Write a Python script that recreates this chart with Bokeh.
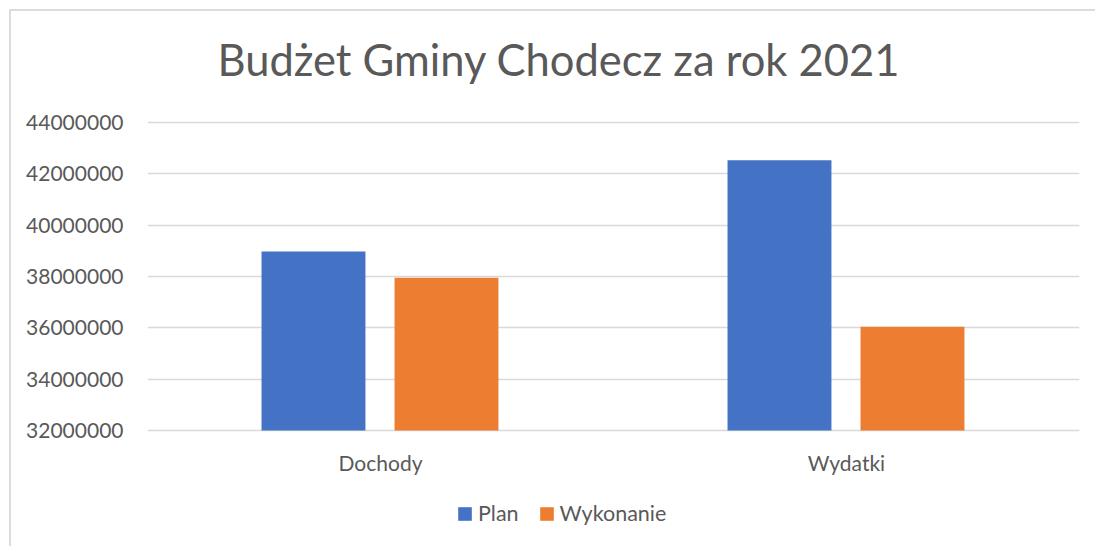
from bokeh.plotting import figure
from bokeh.models import (Range1d, FactorRange, FixedTicker, NumeralTickFormatter,
                          Legend, LegendItem, Label, ColumnDataSource)
from bokeh.transform import dodge
from bokeh.core.properties import value
from bokeh.embed import file_html
from bokeh.resources import INLINE

categories = ["Dochody", "Wydatki"]
plan = [38970000, 42530000]
wykonanie = [37950000, 36040000]
y_ticks = [32000000, 34000000, 36000000, 38000000, 40000000, 42000000, 44000000]
title_text = "Budżet Gminy Chodecz za rok 2021"
series_names = ["Plan", "Wykonanie"]

FONT = "Lato"
TXT = "#595959"
GRID = "#d9d9d9"
BLUE = "#4472C4"
ORANGE = "#ED7D31"

# layout: plot frame fills the canvas height; the value axis occupies rows 122..430
W, H = 1086, 537
BOTTOM_GAP = 118              # pixels between the 32M line and the canvas bottom
PX_PER_UNIT = 308 / (y_ticks[-1] - y_ticks[0])
Y_START = y_ticks[0] - BOTTOM_GAP / PX_PER_UNIT
Y_END = Y_START + H / PX_PER_UNIT
LABEL_Y = y_ticks[0] - 32 / PX_PER_UNIT

src = ColumnDataSource(dict(cat=categories, plan=plan, wyk=wykonanie,
                            ly=[LABEL_Y] * len(categories)))

p = figure(width=W, height=H, x_range=FactorRange(*categories),
           y_range=Range1d(Y_START, Y_END),
           output_backend="svg", toolbar_location=None,
           min_border_left=136, min_border_right=18,
           min_border_top=0, min_border_bottom=0)
p.styles = {"margin-left": "9px", "margin-top": "9px",
            "border-left": "2px solid #dcdcdc", "border-top": "2px solid #dcdcdc"}
p.outline_line_color = None
p.background_fill_color = "white"
p.border_fill_color = "white"

r1 = p.vbar(x=dodge("cat", -0.1438, range=p.x_range), top="plan", bottom=y_ticks[0],
            width=0.223, source=src, fill_color=BLUE, line_color=None)
r2 = p.vbar(x=dodge("cat", 0.1416, range=p.x_range), top="wyk", bottom=y_ticks[0],
            width=0.223, source=src, fill_color=ORANGE, line_color=None)

# category labels
p.text(x="cat", y="ly", text="cat", source=src, text_align="center",
       text_baseline="alphabetic", text_font=value(FONT), text_font_size="21px",
       text_color=TXT)

# chart title
p.add_layout(Label(x=411.5, y=BOTTOM_GAP + 372, x_units="screen", y_units="screen",
                   text=title_text, text_align="center", text_baseline="alphabetic",
                   text_font=FONT, text_font_size="43.5px", text_color=TXT))

p.xaxis.visible = False
p.yaxis.ticker = FixedTicker(ticks=y_ticks)
p.yaxis.formatter = NumeralTickFormatter(format="0")
p.yaxis.axis_line_color = None
p.yaxis.major_tick_line_color = None
p.yaxis.minor_tick_line_color = None
p.yaxis.major_label_text_font = FONT
p.yaxis.major_label_text_font_size = "21px"
p.yaxis.major_label_text_color = TXT
p.yaxis.major_label_standoff = 18

p.xgrid.grid_line_color = None
p.ygrid.ticker = FixedTicker(ticks=y_ticks)
p.ygrid.grid_line_color = GRID
p.ygrid.grid_line_width = 1.3

legend = Legend(items=[LegendItem(label=series_names[0], renderers=[r1]),
                       LegendItem(label=series_names[1], renderers=[r2])],
                orientation="horizontal", location=(309, 22),
                glyph_width=17, glyph_height=17, label_standoff=5, spacing=19,
                padding=0, margin=0, border_line_color=None,
                background_fill_alpha=0,
                label_text_font=FONT, label_text_font_size="21.5px",
                label_text_color=TXT)
p.add_layout(legend, "center")

open("out.html", "w").write(file_html(p, INLINE))
